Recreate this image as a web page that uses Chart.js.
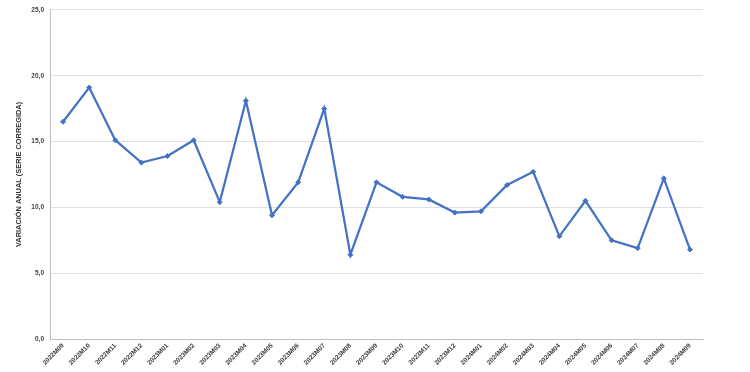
<!DOCTYPE html>
<html>
<head>
<meta charset="utf-8">
<script src="https://cdn.jsdelivr.net/npm/chart.js@4"></script>
<style>
html,body{margin:0;padding:0;background:#fff;}
#wrap{width:750px;height:372px;position:relative;}
</style>
</head>
<body>
<div id="wrap"><canvas id="c" width="750" height="372"></canvas></div>
<script>
const categories = ["2022M09","2022M10","2022M11","2022M12","2023M01","2023M02","2023M03","2023M04","2023M05","2023M06","2023M07","2023M08","2023M09","2023M10","2023M11","2023M12","2024M01","2024M02","2024M03","2024M04","2024M05","2024M06","2024M07","2024M08","2024M09"];
const variacionAnual = [16.5,19.1,15.1,13.4,13.9,15.1,10.4,18.1,9.4,11.9,17.5,6.4,11.9,10.8,10.6,9.6,9.7,11.7,12.7,7.8,10.5,7.5,6.9,12.2,6.8];
const yTicks = [0,5,10,15,20,25];
const yTitle = "VARIACIÓN ANUAL (SERIE CORREGIDA)";

const fmt = v => v.toFixed(1).replace('.', ',');

new Chart(document.getElementById('c'), {
  type: 'line',
  data: {
    labels: categories,
    datasets: [{
      data: variacionAnual,
      borderColor: '#4472C4',
      backgroundColor: '#4472C4',
      borderWidth: 2.25,
      pointStyle: 'rectRot',
      pointRadius: 2.5,
      pointBorderWidth: 1,
      tension: 0,
      fill: false
    }]
  },
  options: {
    responsive: false,
    animation: false,
    devicePixelRatio: 1,
    layout: { padding: { left: 0, right: 47, top: 8, bottom: 0 } },
    plugins: { legend: { display: false }, tooltip: { enabled: false } },
    scales: {
      x: {
        offset: true,
        grid: { display: false, drawTicks: false },
        border: { display: true, color: '#bfbfbf', width: 1 },
        ticks: {
          minRotation: 45, maxRotation: 45, autoSkip: false,
          font: { family: 'Liberation Sans', size: 6.5, weight: 'bold' },
          color: '#404040', padding: 3
        },
        afterFit: s => { s.height = 33; }
      },
      y: {
        min: 0, max: 25,
        afterBuildTicks: s => { s.ticks = yTicks.map(v => ({ value: v })); },
        grid: { color: '#e0e0e0', lineWidth: 1, drawTicks: false },
        border: { display: true, color: '#bfbfbf', width: 1 },
        ticks: {
          callback: v => fmt(v),
          font: { family: 'Liberation Sans', size: 6.5, weight: 'bold' },
          color: '#404040', padding: 6
        },
        title: {
          display: true, text: yTitle,
          font: { family: 'Liberation Sans', size: 7.4, weight: 'bold' },
          color: '#333333', padding: { top: 15, bottom: 0 }
        },
        afterFit: s => { s.width = 50; }
      }
    }
  }
});
</script>
</body>
</html>
